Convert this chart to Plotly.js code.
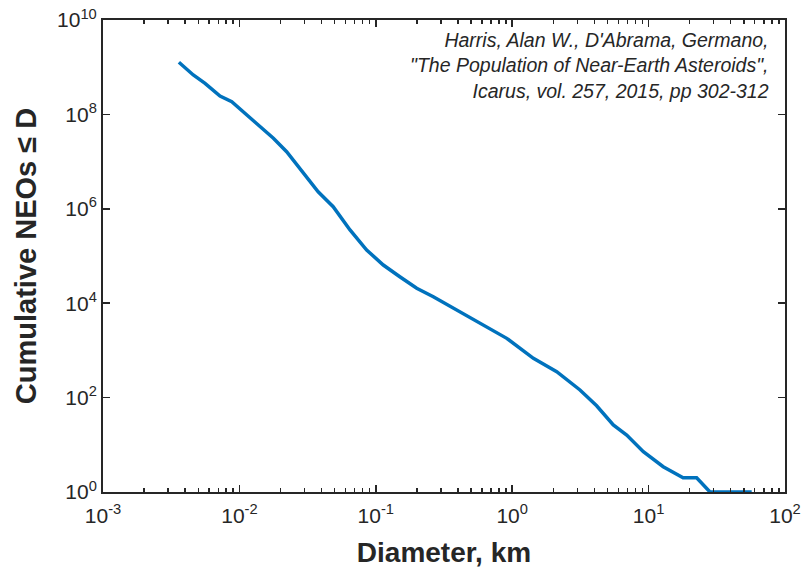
<!DOCTYPE html>
<html>
<head>
<meta charset="utf-8">
<script src="https://cdn.plot.ly/plotly-3.0.1.min.js"></script>
<style>html,body{margin:0;padding:0;background:#fff;}#chart{width:808px;height:579px;}</style>
</head>
<body>
<div id="chart"></div>
<script>
// Diameter (km) and cumulative number of NEOs with diameter >= D
const diameterKm = [0.0036, 0.00459, 0.0056, 0.00721, 0.00879, 0.0134, 0.01775, 0.0222, 0.0294, 0.0378,
  0.0487, 0.0647, 0.0857, 0.1135, 0.150, 0.1995, 0.264, 0.392, 0.519, 0.912,
  1.43, 2.12, 3.14, 4.16, 5.51, 6.91, 9.15, 12.8, 17.9, 22.5, 28.2, 57.0];
const cumulativeNEOs = [1.27e9, 6.84e8, 4.56e8, 2.45e8, 1.86e8, 6.48e7, 3.12e7, 1.62e7, 5.65e6, 2.30e6,
  1.11e6, 3.56e5, 1.34e5, 6.44e4, 3.64e4, 2.07e4, 1.37e4, 7.18e3, 4.41e3, 1.80e3,
  680, 354, 145, 67, 26.3, 16.1, 7.14, 3.44, 2, 2, 1, 1];

const xTickVals = [1e-3, 1e-2, 1e-1, 1e0, 1e1, 1e2];
const xTickText = ['10<sup>-3</sup>', '10<sup>-2</sup>', '10<sup>-1</sup>', '10<sup>0</sup>', '10<sup>1</sup>', '10<sup>2</sup>'];
const yTickVals = [1e0, 1e2, 1e4, 1e6, 1e8, 1e10];
const yTickText = ['10<sup>0</sup>', '10<sup>2</sup>', '10<sup>4</sup>', '10<sup>6</sup>', '10<sup>8</sup>', '10<sup>10</sup>'];
const sourceLines = ["Harris, Alan W., D'Abrama, Germano,", '"The Population of Near-Earth Asteroids",', 'Icarus, vol. 257, 2015, pp 302-312'];

// minor tick positions (2..9 within each decade) for the log x axis
const xMinorVals = [];
for (let e = -3; e < 2; e++) for (let m = 2; m <= 9; m++) xMinorVals.push(m * Math.pow(10, e));

const axisColor = '#262626';
const fontFam = 'Liberation Sans, Arial, sans-serif';

const trace = {
  x: diameterKm, y: cumulativeNEOs, type: 'scatter', mode: 'lines',
  line: {color: '#0072BD', width: 3.5}, hoverinfo: 'skip'
};

const layout = {
  width: 808, height: 579,
  margin: {l: 103, r: 23, t: 20, b: 87},
  paper_bgcolor: '#ffffff', plot_bgcolor: '#ffffff',
  showlegend: false,
  font: {family: fontFam, color: axisColor, size: 20},
  xaxis: {
    type: 'log', range: [-3, 2], tickmode: 'array', tickvals: xTickVals, ticktext: xTickText,
    ticks: 'inside', ticklen: 7, tickwidth: 1.5, tickcolor: axisColor,
    showline: true, linecolor: axisColor, linewidth: 2, mirror: 'ticks',
    showgrid: false, zeroline: false, ticklabelstandoff: 4,
    minor: {tickmode: 'array', tickvals: xMinorVals, ticks: 'inside', ticklen: 4, tickwidth: 1.5, tickcolor: axisColor, showgrid: false},
    tickfont: {size: 21, color: axisColor, family: fontFam},
    title: {text: '<b>Diameter, km</b>', font: {size: 28, color: axisColor, family: fontFam}, standoff: 16}
  },
  yaxis: {
    type: 'log', range: [0, 10], tickmode: 'array', tickvals: yTickVals, ticktext: yTickText,
    ticks: 'inside', ticklen: 7, tickwidth: 1.5, tickcolor: axisColor,
    showline: true, linecolor: axisColor, linewidth: 2, mirror: 'ticks',
    showgrid: false, zeroline: false,
    tickfont: {size: 21, color: axisColor, family: fontFam},
    title: {text: '<b>Cumulative NEOs ≤ D</b>', font: {size: 29, color: axisColor, family: fontFam}, standoff: 12}
  },
  annotations: [{
    xref: 'paper', yref: 'paper', x: 0.98, y: 0.985, xanchor: 'right', yanchor: 'top',
    align: 'right', showarrow: false,
    text: sourceLines.join('<br>'),
    font: {size: 19.5, color: axisColor, family: fontFam, style: 'italic'}
  }]
};

Plotly.newPlot('chart', [trace], layout, {displayModeBar: false, staticPlot: true});
</script>
</body>
</html>
